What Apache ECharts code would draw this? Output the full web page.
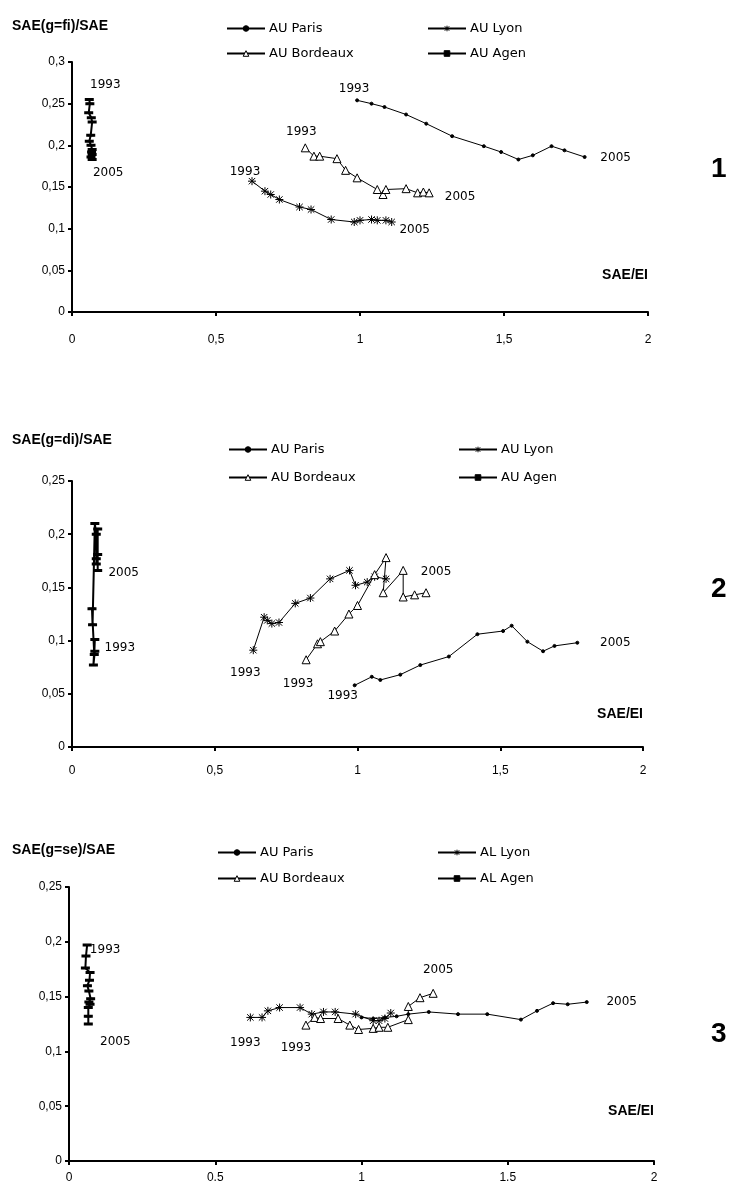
<!DOCTYPE html>
<html>
<head>
<meta charset="utf-8">
<script src="https://cdn.jsdelivr.net/npm/echarts@6/dist/echarts.min.js"></script>
<style>
html,body{margin:0;padding:0;background:#fff;}
#c{width:732px;height:1187px;}
</style>
</head>
<body>
<div id="c"></div>
<script>
// ---------- DATA ----------
const firstYear = '1993';
const lastYear = '2005';

const xTickLabelsComma = ['0', '0,5', '1', '1,5', '2'];
const xTickLabelsDot = ['0', '0.5', '1', '1.5', '2'];
const yTickLabels = ['0', '0,05', '0,1', '0,15', '0,2', '0,25', '0,3'];

const panelTitles = ['SAE(g=fi)/SAE', 'SAE(g=di)/SAE', 'SAE(g=se)/SAE'];
const xAxisTitle = 'SAE/EI';
const panelNumbers = ['1', '2', '3'];
const namesP12 = ['AU Paris', 'AU Lyon', 'AU Bordeaux', 'AU Agen'];
const namesP3 = ['AU Paris', 'AL Lyon', 'AU Bordeaux', 'AL Agen'];

// Panel 1 : SAE(g=fi)/SAE vs SAE/EI, 1993..2005
const p1Paris = [[0.99,0.254],[1.04,0.250],[1.085,0.246],[1.16,0.237],[1.23,0.226],[1.32,0.211],[1.43,0.199],[1.49,0.192],[1.55,0.183],[1.60,0.188],[1.665,0.199],[1.71,0.194],[1.78,0.186]];
const p1Lyon = [[0.625,0.157],[0.67,0.145],[0.69,0.141],[0.72,0.135],[0.79,0.126],[0.83,0.123],[0.90,0.111],[0.98,0.108],[1.00,0.110],[1.04,0.111],[1.06,0.110],[1.09,0.110],[1.11,0.108]];
const p1Bordeaux = [[0.81,0.197],[0.84,0.187],[0.86,0.187],[0.92,0.184],[0.95,0.170],[0.99,0.161],[1.06,0.147],[1.08,0.141],[1.09,0.147],[1.16,0.148],[1.20,0.143],[1.22,0.144],[1.24,0.143]];
const p1Agen = [[0.06,0.255],[0.062,0.250],[0.058,0.239],[0.067,0.233],[0.07,0.228],[0.065,0.212],[0.06,0.205],[0.066,0.200],[0.07,0.195],[0.068,0.192],[0.07,0.189],[0.066,0.186],[0.07,0.183]];

// Panel 2 : SAE(g=di)/SAE
const p2Paris = [[0.99,0.058],[1.05,0.066],[1.08,0.063],[1.15,0.068],[1.22,0.077],[1.32,0.085],[1.42,0.106],[1.51,0.109],[1.54,0.114],[1.595,0.099],[1.65,0.090],[1.69,0.095],[1.77,0.098]];
const p2Lyon = [[0.635,0.091],[0.673,0.122],[0.684,0.119],[0.70,0.116],[0.725,0.117],[0.782,0.135],[0.835,0.140],[0.904,0.158],[0.972,0.166],[0.993,0.152],[1.034,0.155],[1.06,0.160],[1.10,0.158]];
const p2Bordeaux = [[0.82,0.082],[0.86,0.097],[0.87,0.099],[0.92,0.109],[0.97,0.125],[1.00,0.133],[1.06,0.162],[1.10,0.178],[1.09,0.145],[1.16,0.166],[1.16,0.141],[1.20,0.143],[1.24,0.145]];
const p2Agen = [[0.08,0.090],[0.075,0.077],[0.08,0.101],[0.078,0.087],[0.07,0.130],[0.072,0.115],[0.08,0.210],[0.085,0.200],[0.085,0.177],[0.09,0.181],[0.085,0.172],[0.09,0.205],[0.09,0.166]];

// Panel 3 : SAE(g=se)/SAE
const p3Paris = [[1.00,0.131],[1.04,0.130],[1.08,0.131],[1.12,0.132],[1.16,0.134],[1.23,0.136],[1.33,0.134],[1.43,0.134],[1.545,0.129],[1.60,0.137],[1.655,0.144],[1.705,0.143],[1.77,0.145]];
const p3Lyon = [[0.62,0.131],[0.66,0.131],[0.68,0.137],[0.72,0.140],[0.79,0.140],[0.83,0.134],[0.87,0.136],[0.91,0.136],[0.98,0.134],[1.04,0.128],[1.06,0.128],[1.08,0.130],[1.10,0.135]];
const p3Bordeaux = [[0.81,0.124],[0.84,0.131],[0.86,0.130],[0.92,0.130],[0.96,0.124],[0.99,0.120],[1.04,0.121],[1.06,0.122],[1.09,0.122],[1.16,0.129],[1.16,0.141],[1.20,0.149],[1.245,0.153]];
const p3Agen = [[0.062,0.197],[0.058,0.187],[0.056,0.176],[0.072,0.172],[0.07,0.165],[0.063,0.160],[0.068,0.155],[0.074,0.148],[0.068,0.145],[0.072,0.143],[0.066,0.140],[0.066,0.132],[0.066,0.125]];

// ---------- STYLE / LAYOUT ----------
const FONT = 'Liberation Sans';
const FONT2 = 'DejaVu Sans';
const grids = [
  {left: 72, top: 62, width: 576, height: 250},
  {left: 72, top: 481, width: 571, height: 266},
  {left: 69, top: 887, width: 585, height: 274}
];
const yMax = [0.3, 0.25, 0.25];
const xLabelMargin = [22, 18, 11];
const xLabelSets = [xTickLabelsComma, xTickLabelsComma, xTickLabelsDot];

const ASTER = 'path://M0,-5L0,5M-5,0L5,0M-4,-4L4,4M-4,4L4,-4';
const styles = {
  Paris: {symbol: 'circle', symbolSize: 3, lineWidth: 1, fill: '#000'},
  Lyon: {symbol: ASTER, symbolSize: 8, lineWidth: 1, fill: '#000'},
  Bordeaux: {symbol: 'triangle', symbolSize: 8, lineWidth: 1, fill: '#fff'},
  Agen: {symbol: 'rect', symbolSize: [6, 2], lineWidth: 2, fill: '#000'}
};

// label offsets [first, last] (null = no label)
const labelOffsets = [
  {Paris: [[-3,-11],[31,1]], Lyon: [[-7,-9],[23,8]], Bordeaux: [[-4,-16],[31,4]], Agen: [[16,-15],[16,13]]},
  {Paris: [[-12,11],[38,0]], Lyon: [[-8,23],null], Bordeaux: [[-8,24],[10,-21]], Agen: [[25,-3],[26,2]]},
  {Paris: [null,[35,0]], Lyon: [[-5,25],null], Bordeaux: [[-10,23],[5,-23]], Agen: [[18,5],[27,18]]}
];

const panelData = [
  {Paris: p1Paris, Lyon: p1Lyon, Bordeaux: p1Bordeaux, Agen: p1Agen},
  {Paris: p2Paris, Lyon: p2Lyon, Bordeaux: p2Bordeaux, Agen: p2Agen},
  {Paris: p3Paris, Lyon: p3Lyon, Bordeaux: p3Bordeaux, Agen: p3Agen}
];
const cityKeys = ['Paris', 'Lyon', 'Bordeaux', 'Agen'];

const legendPos = [
  {rows: [22, 47], cols: [226, 427]},
  {rows: [443, 471], cols: [228, 458]},
  {rows: [846, 872], cols: [217, 437]}
];

const yearLabelStyle = {fontFamily: FONT2, fontSize: 12, color: '#000'};

function makeData(arr, offs) {
  return arr.map((p, i) => {
    const item = {value: p};
    let off = null, txt = null;
    if (i === 0 && offs[0]) { off = offs[0]; txt = firstYear; }
    if (i === arr.length - 1 && offs[1]) { off = offs[1]; txt = lastYear; }
    if (off) {
      item.label = Object.assign({show: true, position: 'inside', align: 'center', verticalAlign: 'middle',
        offset: off, formatter: txt}, yearLabelStyle);
    }
    return item;
  });
}

const series = [];
const legends = [];
const xAxes = [];
const yAxes = [];
const titles = [];
const graphics = [];

for (let p = 0; p < 3; p++) {
  const names = p < 2 ? namesP12 : namesP3;
  const g = grids[p];
  xAxes.push({
    gridIndex: p, type: 'value', min: 0, max: 2, interval: 0.5,
    axisLine: {show: true, onZero: false, lineStyle: {color: '#000', width: 2}},
    axisTick: {show: true, inside: false, length: 4, lineStyle: {color: '#000', width: 2}},
    splitLine: {show: false},
    axisLabel: {margin: xLabelMargin[p], fontFamily: FONT, fontSize: 12, color: '#000',
      formatter: (v) => xLabelSets[p][Math.round(v / 0.5)]}
  });
  yAxes.push({
    gridIndex: p, type: 'value', min: 0, max: yMax[p], interval: 0.05,
    axisLine: {show: true, onZero: false, lineStyle: {color: '#000', width: 2}},
    axisTick: {show: true, length: 4, lineStyle: {color: '#000', width: 2}},
    splitLine: {show: false},
    axisLabel: {margin: 7, fontFamily: FONT, fontSize: 12, color: '#000',
      formatter: (v) => yTickLabels[Math.round(v / 0.05)]}
  });
  cityKeys.forEach((k, ci) => {
    const st = styles[k];
    series.push({
      type: 'line', name: names[ci], xAxisIndex: p, yAxisIndex: p,
      data: makeData(panelData[p][k], labelOffsets[p][k]),
      symbol: st.symbol, symbolSize: st.symbolSize, showSymbol: true,
      lineStyle: {color: '#000', width: st.lineWidth},
      itemStyle: {color: st.fill, borderColor: '#000', borderWidth: 1},
      emphasis: {disabled: true},
      z: 3
    });
    const lp = legendPos[p];
    legends.push({
      data: [names[ci]], left: lp.cols[ci % 2], top: lp.rows[Math.floor(ci / 2)],
      itemWidth: 38, itemHeight: 7, itemGap: 4, padding: 0, selectedMode: false,
      itemStyle: {borderColor: '#000', borderWidth: 1},
      textStyle: {fontFamily: FONT2, fontSize: 13, color: '#000', padding: [0, 0, 0, -1]}
    });
  });
  titles.push({
    text: panelTitles[p], left: 7, top: [14, 428, 838][p],
    textStyle: {fontFamily: FONT, fontSize: 14, fontWeight: 'bold', color: '#000'}
  });
  graphics.push({
    type: 'text', right: 732 - (g.left + g.width) , top: g.top + g.height - [44, 40, 57][p],
    style: {text: xAxisTitle, fontFamily: FONT, fontSize: 14, fontWeight: 'bold', fill: '#000'}
  });
  graphics.push({
    type: 'text', left: 711, top: [155, 575, 1020][p],
    style: {text: panelNumbers[p], fontFamily: FONT, fontSize: 28, fontWeight: 'bold', fill: '#000'}
  });
}

const chart = echarts.init(document.getElementById('c'), null, {renderer: 'canvas'});
chart.setOption({
  backgroundColor: '#fff',
  animation: false,
  title: titles,
  legend: legends,
  grid: grids,
  xAxis: xAxes,
  yAxis: yAxes,
  series: series,
  graphic: graphics
});
</script>
</body>
</html>
